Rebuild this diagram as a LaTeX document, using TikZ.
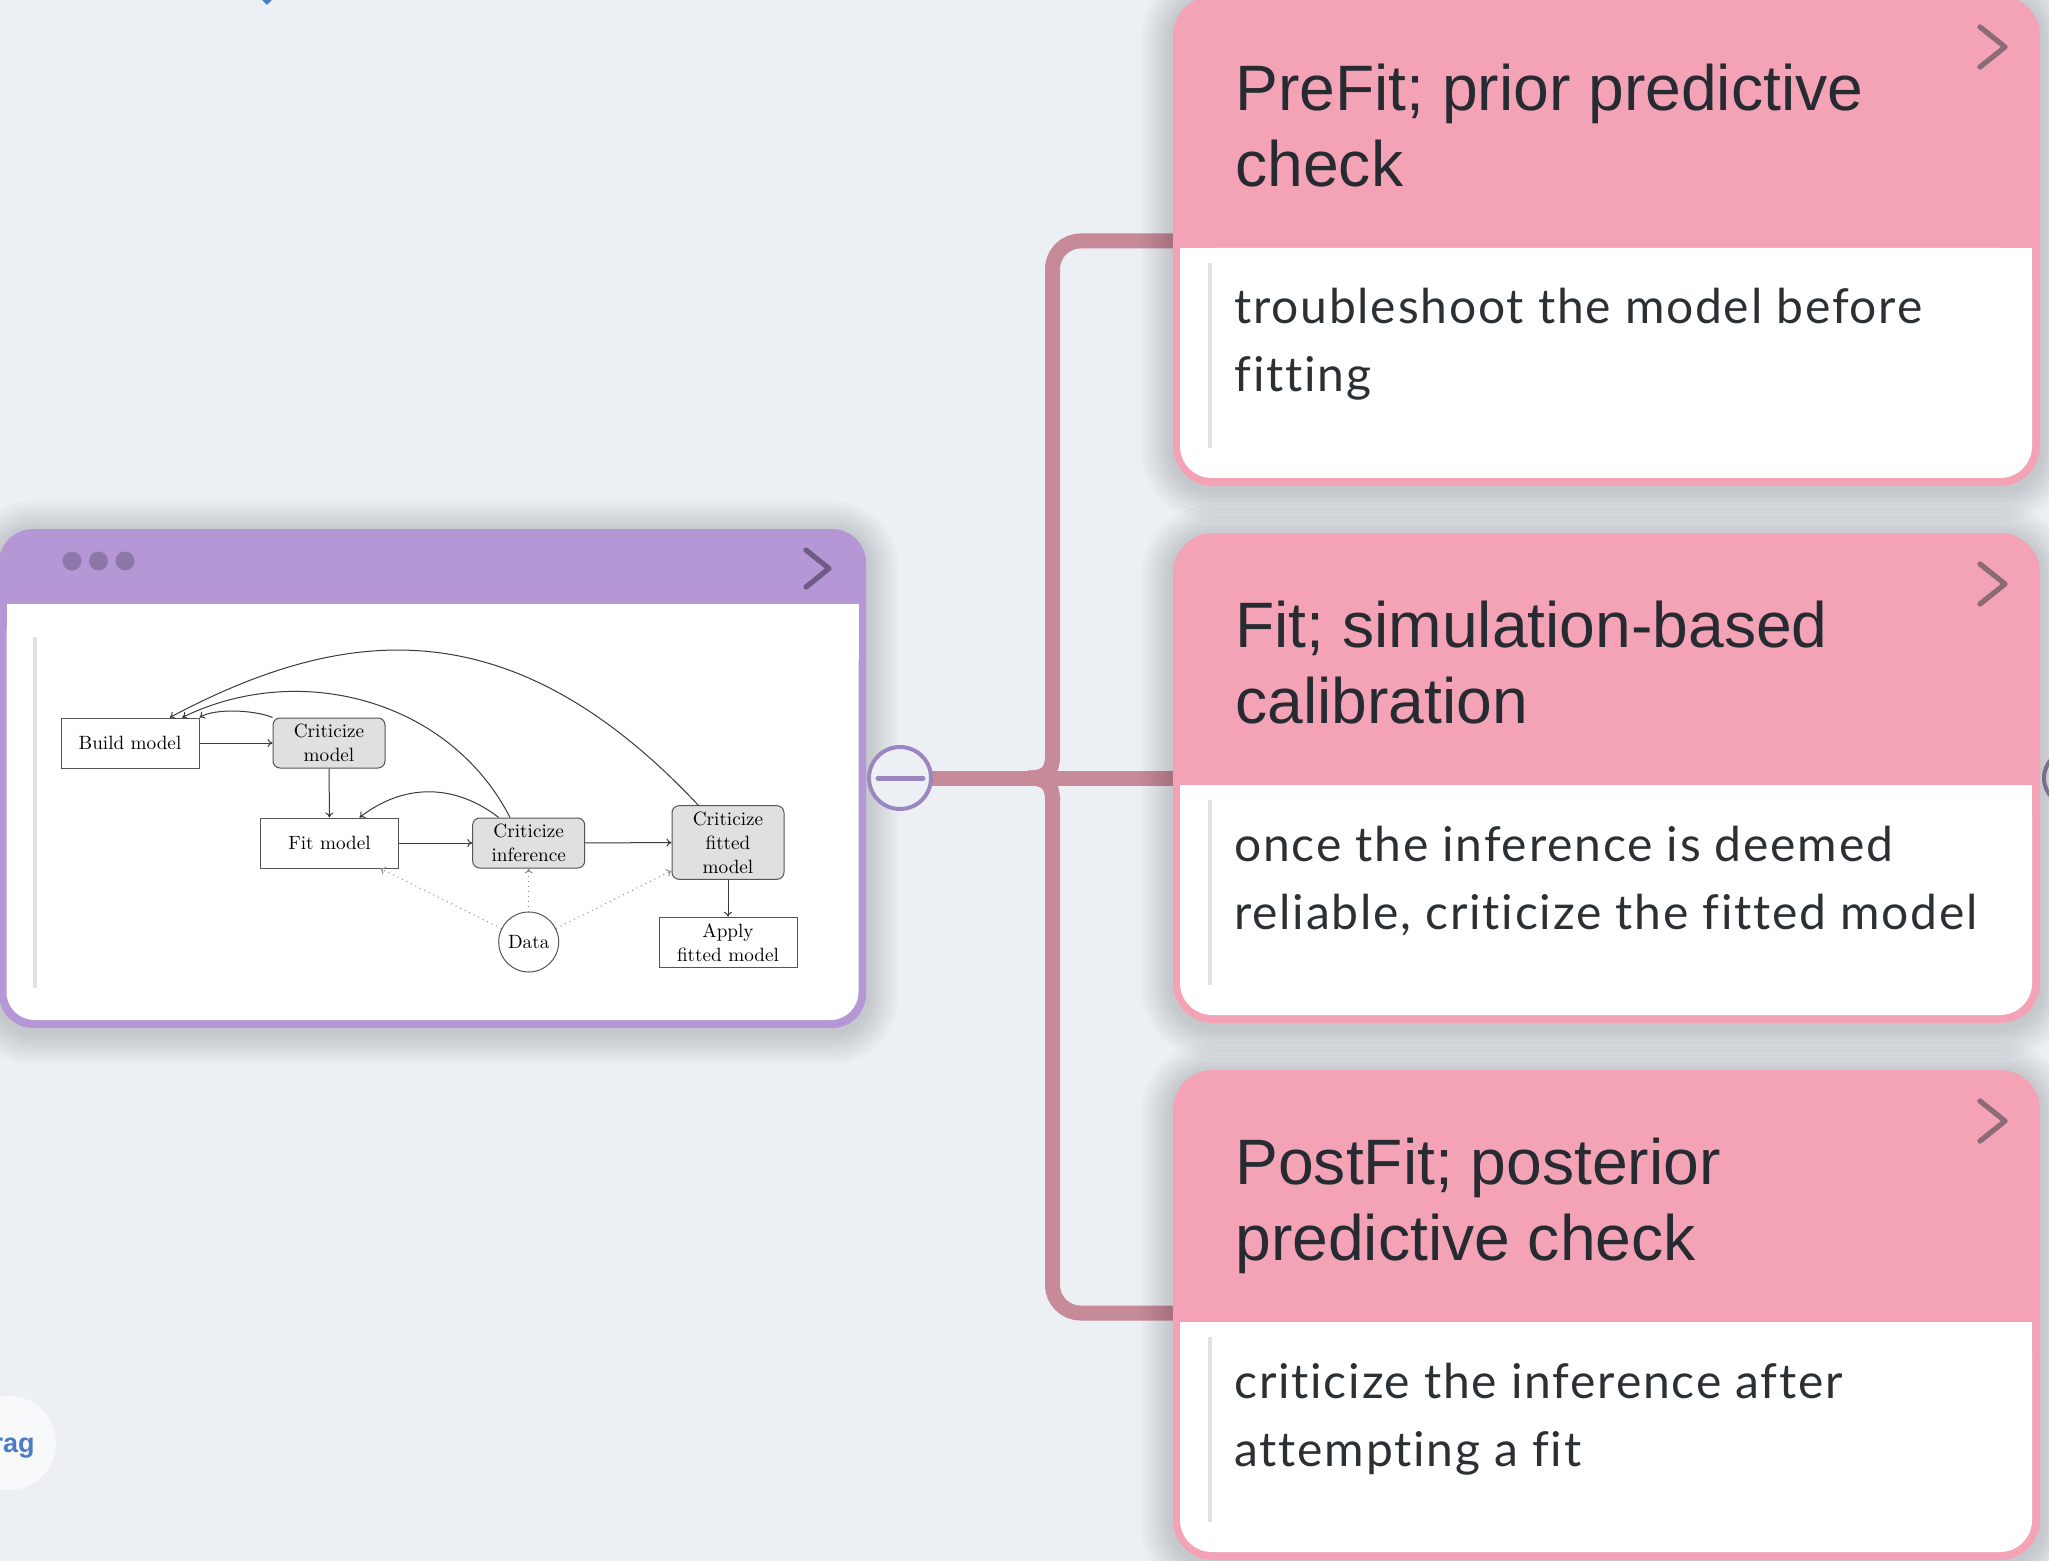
\documentclass[tikz,border=0pt]{standalone}
\usepackage{fontspec}
\newfontfamily\titlefont{Liberation Sans}
\newfontfamily\bodyfont{Lato}[Ligatures=NoCommon,LetterSpace=3.7]
\usetikzlibrary{arrows.meta}
\definecolor{bgc}{HTML}{ECF0F5}
\definecolor{pinkc}{HTML}{F4A3B6}
\definecolor{purpc}{HTML}{B597D6}
\definecolor{connc}{HTML}{C68A98}
\definecolor{minusc}{HTML}{9B86C0}
\definecolor{dotc}{HTML}{8C78A8}
\definecolor{chevpu}{HTML}{6F5B88}
\definecolor{chevpi}{HTML}{8B6B76}
\definecolor{barc}{HTML}{E2E2E4}
\definecolor{txtc}{HTML}{262B31}
\definecolor{bodyc}{HTML}{2B3035}
\definecolor{boxfill}{HTML}{E0E0E0}
\definecolor{boxline}{HTML}{555555}
\definecolor{arrc}{HTML}{3A3A3A}
\definecolor{dotline}{HTML}{8A8A8A}
\definecolor{bluec}{HTML}{4A7BC6}
\definecolor{dragc}{HTML}{F8F9FB}

% #1 index, #2 top, #3 #4 title lines, #5 #6 body lines
\newcommand\pinkcard[6]{%
  \foreach \s in {1,...,8}{%
    \fill[black,opacity=0.02,rounded corners=20pt+2pt*\s]
      (1173-4*\s,#2-4*\s+4) rectangle (2040+4*\s,#2+490+4*\s+4);}
  \fill[pinkc,rounded corners=20pt] (1173,#2) rectangle (2040,#2+490);
  \fill[white,rounded corners=16pt] (1180,#2+252) rectangle (2032,#2+482);
  \fill[white] (1180,#2+252) rectangle (2032,#2+320);
  \fill[barc] (1208,#2+267) rectangle (1212,#2+452);
  \draw[chevpi,line width=2.6pt,line cap=round,line join=round]
    (1980,#2+31) -- (2005,#2+51) -- (1980,#2+71);
  \node[titletxt,anchor=base west] (t#1a) at (1235,#2+114.7) {#3};
  \node[titletxt,anchor=base west] (t#1b) at (1235,#2+190.7) {#4};
  \node[bodytxt,anchor=base west] (b#1a) at (1234,#2+328) {#5};
  \node[bodytxt,anchor=base west] (b#1b) at (1234,#2+396) {#6};
}

\begin{document}
\begin{tikzpicture}[x=0.5pt,y=-0.5pt,
  titletxt/.style={font=\titlefont\fontsize{32.1}{38}\selectfont,text=txtc,inner sep=0pt},
  bodytxt/.style={font=\bodyfont\fontsize{24}{34}\selectfont,text=bodyc,inner sep=0pt},
  box/.style={draw=boxline,line width=0.5pt,minimum width=69pt,minimum height=25pt,
    inner sep=0pt,font=\fontsize{9.6}{12}\selectfont,align=center,fill=white},
  gbox/.style={box,fill=boxfill,rounded corners=3.5pt,minimum width=56pt},
  databox/.style={draw=boxline,line width=0.5pt,circle,minimum size=30pt,inner sep=0pt,
    font=\fontsize{9.6}{12}\selectfont,fill=white},
  arr/.style={draw=arrc,line width=0.5pt,-{To[length=2.5pt,width=4pt]}},
  darr/.style={arr,draw=dotline,dotted},
  conn/.style={draw=connc,line width=7.5pt},
]
\useasboundingbox (0,0) rectangle (2049,1561);
\clip (0,0) rectangle (2049,1561);
\fill[bgc] (0,0) rectangle (2049,1561);

% top-left blue marker and bottom-left drag button
\fill[bluec] (259,-3) -- (267,5) -- (275,-3) -- (267,-11) -- cycle;
\fill[dragc] (9,1443) circle[radius=23.5pt];
\node[font=\titlefont\bfseries\fontsize{13.5}{16}\selectfont,text=bluec,anchor=base east,inner sep=0pt]
  (drag) at (35,1452) {rag};

% connectors
\coordinate (c1) at (1173,241);
\coordinate (c2) at (1173,778);
\coordinate (c3) at (1173,1313);
\draw[conn] (900,778) -- (c2);
\draw[conn,rounded corners=14pt] (1052.5,760) -- (1052.5,241) -- (c1);
\draw[conn,rounded corners=14pt] (1052.5,796) -- (1052.5,1313) -- (c3);
\draw[conn] (1028,778) .. controls (1046,778) and (1052.5,772) .. (1052.5,756);
\draw[conn] (1028,778) .. controls (1046,778) and (1052.5,784) .. (1052.5,800);

% purple card
\foreach \s in {1,...,8}{%
  \fill[black,opacity=0.02,rounded corners=17pt+2pt*\s]
    (-1-4*\s,529-4*\s+4) rectangle (866+4*\s,1028+4*\s+4);}
\fill[purpc,rounded corners=17pt] (-1,529) rectangle (866,1028);
\fill[white,rounded corners=14pt] (6.5,604) rectangle (858.5,1020);
\fill[white] (6.5,604) rectangle (858.5,660);
\fill[dotc] (72,561) circle[radius=4.75pt];
\fill[dotc] (98.5,561) circle[radius=4.75pt];
\fill[dotc] (125,561) circle[radius=4.75pt];
\draw[chevpu,line width=2.6pt,line cap=round,line join=round]
  (806,550) -- (829,568.5) -- (806,587);
\fill[barc] (33,637) rectangle (37,988);

% inner flow diagram
\node[box] (build) at (130,743) {Build model};
\node[gbox] (critm) at (329,743) {Criticize\\model};
\node[box] (fit) at (329.5,843) {Fit model};
\node[gbox] (criti) at (528.7,843) {Criticize\\inference};
\node[gbox,minimum height=36.8pt] (critf) at (728,842.5) {Criticize\\fitted\\model};
\node[box] (apply) at (728,942.3) {Apply\\fitted model};
\node[databox] (data) at (528.7,942) {Data};

\draw[arr] (build) -- (critm);
\draw[arr] (critm) -- (fit);
\draw[arr] (fit) -- (criti);
\draw[arr] (criti) -- (critf);
\draw[arr] (critf) -- (apply);
\draw[darr] (data) -- ([xshift=-9.35pt]fit.south east);
\draw[darr] (data) -- (criti);
\draw[darr] (data) -- ([yshift=4.5pt]critf.south west);

\draw[arr] (critm.north west) .. controls (255,710) and (215,708) .. (build.north east);
\draw[arr] ([xshift=-9.35pt]criti.north) .. controls (450,700) and (300,660) .. ([xshift=-8.65pt]build.north east);
\draw[arr] ([xshift=-14.85pt]critf.north) .. controls (514,609) and (349,622) .. ([xshift=-14.85pt]build.north east);
\draw[arr] ([xshift=-15pt]criti.north) .. controls (454.3,783.3) and (403.9,783.3) .. ([xshift=15pt]fit.north);

% minus button
\node[circle,draw=minusc,line width=2pt,fill=bgc,minimum size=31pt,inner sep=0pt] (minus) at (900,778) {};
\draw[minusc,line width=2.5pt,line cap=round] ([xshift=-11pt]minus.center) -- ([xshift=11.5pt]minus.center);

% right edge partial button
\node[circle,draw=minusc!60!gray,line width=2pt,fill=bgc,minimum size=28pt,inner sep=0pt] (rbtn) at (2072,778) {};

% pink cards
\pinkcard{1}{-4}{PreFit; prior predictive}{check}{troubleshoot the model before}{fitting}
\pinkcard{2}{533}{Fit; simulation-based}{calibration}{once the inference is deemed}{reliable, criticize the fitted model}
\pinkcard{3}{1070}{PostFit; posterior}{predictive check}{criticize the inference after}{attempting a fit}
\end{tikzpicture}
\end{document}
